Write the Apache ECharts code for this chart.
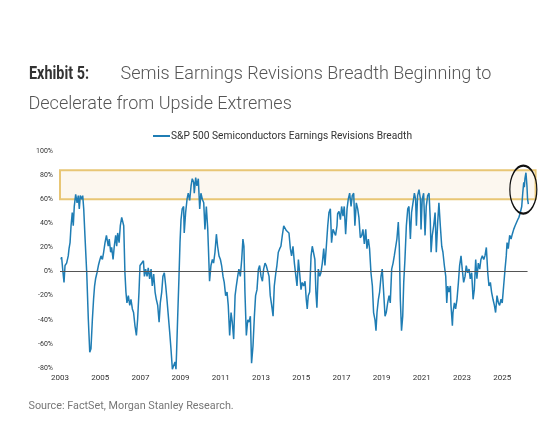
<!DOCTYPE html>
<html lang="en">

<head>
    <meta charset="UTF-8">
    <title>Exhibit 5</title>
    <style>
        html, body {
            margin: 0;
            padding: 0;
            background: #fff;
        }

        #box {
            width: 555px;
            height: 430px;
        }
    </style>
    <script src="https://cdn.jsdelivr.net/npm/echarts@6/dist/echarts.min.js"></script>
</head>

<body>
    <div id="box"></div>
    <script>
        // dates as decimal years, values in %
        const dates = [
            2003.05, 2003.08, 2003.15, 2003.20, 2003.25, 2003.33, 2003.41, 2003.45, 2003.50, 2003.55,
            2003.61, 2003.66, 2003.71, 2003.78, 2003.85, 2003.91, 2003.96, 2004.01, 2004.08, 2004.13,
            2004.18, 2004.24, 2004.33, 2004.41, 2004.48, 2004.54, 2004.61, 2004.67, 2004.72, 2004.77,
            2004.84, 2004.91, 2004.97, 2005.04, 2005.11, 2005.17, 2005.24, 2005.31, 2005.37, 2005.40,
            2005.45, 2005.52, 2005.57, 2005.64, 2005.70, 2005.77, 2005.82, 2005.87, 2005.94, 2006.00,
            2006.07, 2006.13, 2006.17, 2006.23, 2006.28, 2006.33, 2006.40, 2006.47, 2006.53, 2006.60,
            2006.66, 2006.73, 2006.80, 2006.86, 2006.93, 2006.98, 2007.06, 2007.15, 2007.20, 2007.26,
            2007.33, 2007.39, 2007.46, 2007.53, 2007.59, 2007.66, 2007.73, 2007.79, 2007.86, 2007.93,
            2007.99, 2008.06, 2008.12, 2008.19, 2008.26, 2008.32, 2008.39, 2008.46, 2008.52, 2008.59,
            2008.72, 2008.77, 2008.80, 2008.85, 2008.92, 2008.97, 2009.02, 2009.08, 2009.15, 2009.18,
            2009.25, 2009.32, 2009.38, 2009.45, 2009.52, 2009.58, 2009.65, 2009.68, 2009.75, 2009.81,
            2009.88, 2009.95, 2010.01, 2010.08, 2010.15, 2010.21, 2010.28, 2010.35, 2010.38, 2010.44,
            2010.51, 2010.58, 2010.64, 2010.71, 2010.78, 2010.84, 2010.91, 2010.98, 2011.04, 2011.11,
            2011.17, 2011.24, 2011.31, 2011.37, 2011.44, 2011.51, 2011.57, 2011.64, 2011.71, 2011.77,
            2011.84, 2011.90, 2011.97, 2012.04, 2012.10, 2012.15, 2012.20, 2012.27, 2012.34, 2012.40,
            2012.47, 2012.53, 2012.60, 2012.67, 2012.73, 2012.80, 2012.87, 2012.93, 2013.00, 2013.07,
            2013.13, 2013.20, 2013.26, 2013.33, 2013.40, 2013.46, 2013.53, 2013.60, 2013.66, 2013.73,
            2013.79, 2013.86, 2013.93, 2013.99, 2014.06, 2014.13, 2014.19, 2014.26, 2014.33, 2014.39,
            2014.46, 2014.52, 2014.59, 2014.66, 2014.79, 2014.86, 2014.92, 2014.99, 2015.05, 2015.12,
            2015.19, 2015.25, 2015.30, 2015.35, 2015.42, 2015.49, 2015.55, 2015.62, 2015.68, 2015.73,
            2015.78, 2015.85, 2015.92, 2015.98, 2016.05, 2016.12, 2016.18, 2016.25, 2016.32, 2016.38,
            2016.45, 2016.51, 2016.58, 2016.65, 2016.71, 2016.78, 2016.81, 2016.88, 2016.95, 2017.01,
            2017.08, 2017.14, 2017.21, 2017.28, 2017.34, 2017.41, 2017.48, 2017.54, 2017.61, 2017.67,
            2017.74, 2017.81, 2017.87, 2017.94, 2018.01, 2018.07, 2018.14, 2018.21, 2018.27, 2018.34,
            2018.40, 2018.47, 2018.54, 2018.60, 2018.67, 2018.72, 2018.77, 2018.84, 2018.90, 2018.97,
            2019.03, 2019.10, 2019.17, 2019.23, 2019.30, 2019.37, 2019.43, 2019.50, 2019.57, 2019.63,
            2019.70, 2019.76, 2019.83, 2019.88, 2019.93, 2019.99, 2020.05, 2020.10, 2020.16, 2020.23,
            2020.30, 2020.36, 2020.43, 2020.49, 2020.56, 2020.63, 2020.69, 2020.73, 2020.79, 2020.86,
            2020.93, 2020.96, 2021.02, 2021.09, 2021.16, 2021.22, 2021.29, 2021.36, 2021.42, 2021.46,
            2021.52, 2021.59, 2021.66, 2021.72, 2021.79, 2021.85, 2021.92, 2021.99, 2022.05, 2022.12,
            2022.19, 2022.24, 2022.29, 2022.35, 2022.42, 2022.45, 2022.52, 2022.55, 2022.62, 2022.68,
            2022.75, 2022.82, 2022.88, 2022.95, 2023.01, 2023.08, 2023.15, 2023.21, 2023.28, 2023.35,
            2023.41, 2023.48, 2023.55, 2023.61, 2023.68, 2023.74, 2023.81, 2023.88, 2023.94, 2024.01,
            2024.08, 2024.14, 2024.21, 2024.28, 2024.34, 2024.41, 2024.47, 2024.54, 2024.61, 2024.67,
            2024.74, 2024.81, 2024.87, 2024.94, 2025.00, 2025.07, 2025.14, 2025.20, 2025.24, 2025.30,
            2025.37, 2025.44, 2025.50, 2025.57, 2025.64, 2025.70, 2025.77, 2025.83, 2025.90, 2025.97,
            2026.02, 2026.07, 2026.10, 2026.13, 2026.18, 2026.23, 2026.26, 2026.30
        ]

        const breadth = [
            10, 12, -1, -9, 5, 7, 13, 19, 24, 38,
            49, 38, 54, 64, 57, 63, 52, 63, 60, 63,
            52, 30, -1, -40, -67, -64, -40, -23, -12, -6,
            -1, 5, 9, 13, 10, 16, 24, 30, 31, 21,
            27, 16, 20, 10, 21, 30, 21, 32, 24, 38,
            45, 46, 38, -1, -17, -26, -20, -28, -23, -31,
            -34, -45, -53, -40, -17, 5, 6, 9, -4, 2,
            -4, 3, -6, 2, -12, -2, -17, -23, -28, -42,
            -26, -17, -4, -1, -12, -23, -37, -51, -64, -81,
            -75, -81, -67, -40, -4, 24, 43, 52, 54, 32,
            49, 60, 65, 59, 71, 77, 74, 65, 78, 71,
            77, 52, 65, 60, 57, 35, 54, 35, 21, -8,
            5, 10, 7, 16, 31, 21, 13, 10, 5, -4,
            -9, -20, -17, -28, -53, -34, -42, -56, -20, -12,
            -4, 2, -4, 10, 27, 21, -17, -53, -40, -42,
            -37, -76, -62, -37, -20, -15, 2, 5, -4, -8,
            2, 7, 5, 5, -4, -20, -28, -37, -12, -2,
            5, 16, 19, 21, 30, 38, 39, 34, 35, 32,
            19, 13, 21, 7, -12, 10, -1, -15, -9, -12,
            -8, -23, -31, -20, -17, 13, 21, 21, 10, -17,
            -30, 2, -4, -1, 7, 19, 5, 21, 38, 49,
            52, 24, 35, 36, 30, 38, 48, 50, 43, 54,
            46, 54, 31, 52, 60, 65, 54, 63, 65, 38,
            57, 52, 45, 28, 30, 35, 23, 35, 19, 27,
            19, -1, -12, -34, -40, -49, -34, -23, -17, -4,
            2, -17, -37, -34, -26, -20, -26, 2, 7, 13,
            12, 27, 41, 21, -23, -49, -37, -9, 10, 38,
            52, 54, 27, 49, 57, 65, 60, 38, 63, 68,
            60, 35, 60, 65, 30, 54, 63, 65, 43, 16,
            30, 38, 49, 16, 41, 57, 38, 21, 16, 5,
            -4, -26, -12, -17, -12, -28, -45, -34, -26, -31,
            -23, -9, 5, 13, 2, -9, -4, 5, -1, 2,
            -6, -1, -23, -15, 10, -6, 7, 2, 10, 13,
            10, 13, 20, -1, -12, -9, -17, -23, -28, -34,
            -20, -26, -28, -23, -26, -12, 2, 13, 24, 19,
            30, 27, 31, 35, 38, 39, 43, 45, 49, 54,
            65, 74, 70, 77, 82, 71, 60, 56
        ]

        const yearTicks = [2003, 2026.66]   // x axis range
        const pctTicks = [-80, 100, 20]      // min, max, step
        const highlightBand = [60, 84]       // shaded "upside extreme" zone
        const zeroLineEnd = 2026.26
        const callout = [2026.05, 68]        // circled latest reading

        const seriesName = 'S&P 500 Semiconductors Earnings Revisions Breadth'

        var box = document.querySelector('#box')
        const myChart = echarts.init(box, null, { renderer: 'canvas' })

        const lineData = []
        for (let i = 0; i < dates.length; i++) {
            lineData.push([dates[i], breadth[i]])
        }

        const font = 'Roboto, "Noto Sans", sans-serif'

        var option = {
            animation: false,
            textStyle: { fontFamily: font },
            // the bold exhibit label is set in a narrow face in the original
            graphic: [{
                type: 'text',
                x: 29,
                y: 65,
                scaleX: 0.8,
                style: {
                    text: 'Exhibit 5:',
                    fill: '#333',
                    font: 'bold 18px Roboto, "Noto Sans", sans-serif',
                    textVerticalAlign: 'top'
                }
            }],
            title: [{
                text: 'Semis Earnings Revisions Breadth Beginning to',
                left: 120.5,
                top: 65,
                padding: 0,
                textStyle: { fontSize: 18, fontWeight: 300, color: '#555', fontFamily: font }
            }, {
                text: 'Decelerate from Upside Extremes',
                left: 28.5,
                top: 95,
                padding: 0,
                textStyle: { fontSize: 18, fontWeight: 300, color: '#555', fontFamily: font }
            }, {
                text: 'Source: FactSet, Morgan Stanley Research.',
                left: 28.5,
                top: 401,
                padding: 0,
                textStyle: { fontSize: 10.8, fontWeight: 'normal', color: '#777', fontFamily: font }
            }],
            legend: {
                left: 153,
                top: 131,
                padding: 0,
                icon: 'rect',
                itemWidth: 17,
                itemHeight: 2,
                textStyle: { fontSize: 10.2, color: '#333', padding: [0, 0, 0, -4] },
                data: [seriesName]
            },
            grid: {
                left: 60,
                right: 19.4,
                top: 151,
                bottom: 62
            },
            xAxis: {
                type: 'value',
                min: yearTicks[0],
                max: yearTicks[1],
                interval: 2,
                axisLine: { show: false },
                axisTick: { show: false },
                splitLine: { show: false },
                axisLabel: {
                    showMaxLabel: false,
                    margin: 6,
                    fontSize: 8,
                    color: '#333',
                    formatter: function (v) {
                        return Number.isInteger(v) ? String(v) : ''
                    }
                }
            },
            yAxis: {
                type: 'value',
                min: pctTicks[0],
                max: pctTicks[1],
                interval: pctTicks[2],
                axisLine: { show: false },
                axisTick: { show: false },
                splitLine: { show: false },
                axisLabel: {
                    margin: 7,
                    fontSize: 7,
                    color: '#333',
                    formatter: '{value}%'
                }
            },
            series: [{
                name: seriesName,
                type: 'line',
                data: lineData,
                showSymbol: false,
                clip: false,
                lineStyle: { color: '#1f7db4', width: 1.5 },
                itemStyle: { color: '#1f7db4' },
                markArea: {
                    silent: true,
                    itemStyle: {
                        color: '#fcf7ef',
                        borderColor: '#e8c675',
                        borderWidth: 2
                    },
                    data: [
                        [{ coord: [yearTicks[0], highlightBand[0]] }, { coord: [yearTicks[1], highlightBand[1]] }]
                    ]
                },
                markLine: {
                    silent: true,
                    symbol: 'none',
                    label: { show: false },
                    lineStyle: { color: '#555', width: 1, type: 'solid' },
                    data: [
                        [{ coord: [yearTicks[0], 0] }, { coord: [zeroLineEnd, 0] }]
                    ]
                },
                markPoint: {
                    silent: true,
                    symbol: 'circle',
                    symbolSize: [27, 48],
                    label: { show: false },
                    itemStyle: {
                        color: 'rgba(0,0,0,0)',
                        borderColor: '#111',
                        borderWidth: 1.6
                    },
                    data: [{ coord: callout }]
                }
            }]
        }

        myChart.setOption(option)
    </script>

</body>

</html>
